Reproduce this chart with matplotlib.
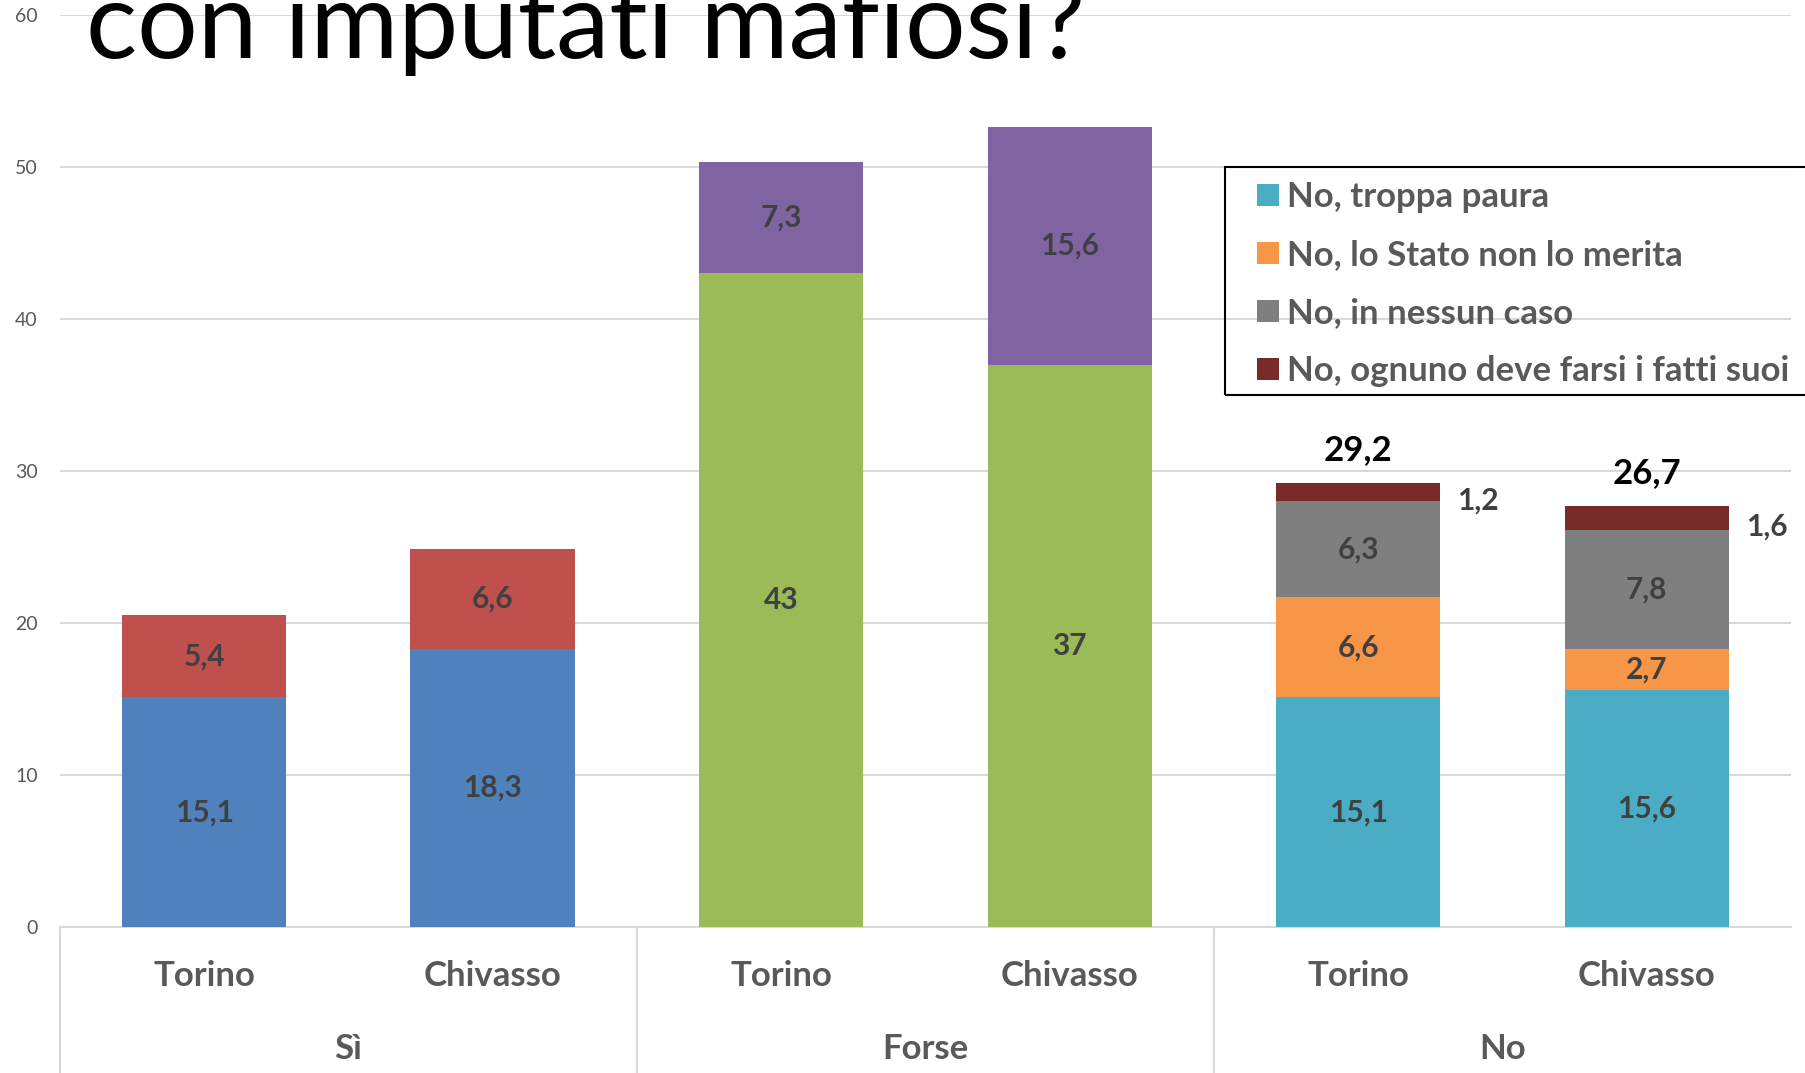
import matplotlib
matplotlib.use('Agg')
import matplotlib.pyplot as plt
from matplotlib.patches import Patch, Rectangle
from matplotlib.transforms import blended_transform_factory

# data
groups = ['Sì', 'Forse', 'No']
cities = ['Torino', 'Chivasso']

si_base = [15.1, 18.3]
si_top = [5.4, 6.6]
forse_base = [43, 37]
forse_top = [7.3, 15.6]
no_paura = [15.1, 15.6]
no_stato = [6.6, 2.7]
no_nessun = [6.3, 7.8]
no_fatti = [1.2, 1.6]
no_total_labels = ['29,2', '26,7']

legend_names = ['No, troppa paura', 'No, lo Stato non lo merita',
                'No, in nessun caso', 'No, ognuno deve farsi i fatti suoi']

plt.rcParams['font.family'] = ['Lato', 'DejaVu Sans']

fig = plt.figure(figsize=(18.06, 10.73), dpi=100)
ax = fig.add_axes([0.0332, 0.1361, 0.9585, 0.8499])

W = 0.57
LBL = '#404040'
FS = 21.5


def fmt(v):
    return ('%g' % v).replace('.', ',')


def stack(xs, layers, colors):
    bottom = [0] * len(xs)
    for vals, col in zip(layers, colors):
        ax.bar(xs, vals, W, bottom=bottom, color=col, zorder=3)
        bottom = [a + v for a, v in zip(bottom, vals)]
    return bottom


def inner(x, y, v):
    ax.text(x, y, fmt(v), ha='center', va='center', fontsize=FS,
            fontweight='bold', color=LBL, zorder=4)


# Sì
stack([0, 1], [si_base, si_top], ['#4F81BD', '#C0504D'])
for i, x in enumerate([0, 1]):
    inner(x, si_base[i] / 2, si_base[i])
    inner(x, si_base[i] + si_top[i] / 2, si_top[i])

# Forse
stack([2, 3], [forse_base, forse_top], ['#9BBB59', '#8064A2'])
for i, x in enumerate([2, 3]):
    inner(x, forse_base[i] / 2, forse_base[i])
    inner(x, forse_base[i] + forse_top[i] / 2, forse_top[i])

# No
no_colors = ['#4BACC6', '#F79646', '#7F7F7F', '#772C2A']
no_layers = [no_paura, no_stato, no_nessun, no_fatti]
tops = stack([4, 5], no_layers, no_colors)
for i, x in enumerate([4, 5]):
    base = 0
    for k, layer in enumerate(no_layers):
        v = layer[i]
        if k < 3:
            inner(x, base + v / 2, v)
        else:
            ax.annotate(fmt(v), (x + W / 2, base + v / 2), xytext=(12, -6), textcoords='offset points',
                        ha='left', va='center', fontsize=FS, fontweight='bold', color=LBL)
        base += v
    ax.annotate(no_total_labels[i], (x, tops[i]), xytext=(0, 12), textcoords='offset points',
                ha='center', va='bottom', fontsize=25, fontweight='bold', color='black')

ax.set_xlim(-0.5, 5.5)
ax.set_ylim(0, 60)
ax.set_yticks(range(0, 61, 10))
ax.yaxis.grid(True, color='#D9D9D9', linewidth=1.5, zorder=0)
ax.set_axisbelow(True)
for s in ['top', 'right', 'left']:
    ax.spines[s].set_visible(False)
ax.spines['bottom'].set_color('#D9D9D9')
ax.spines['bottom'].set_linewidth(1.5)
ax.tick_params(axis='y', length=0, labelsize=14, labelcolor='#595959', pad=16)

ax.set_xticks(range(6))
ax.set_xticklabels(cities * 3, fontsize=25, fontweight='bold', color='#595959')
ax.tick_params(axis='x', length=0, pad=24)

tr = blended_transform_factory(ax.transData, ax.transAxes)
for gi, g in enumerate(groups):
    ax.text(gi * 2 + 0.5, -0.134, g, transform=tr, ha='center', va='center',
            fontsize=25, fontweight='bold', color='#595959')
for xs in [-0.5, 1.5, 3.5]:
    ax.plot([xs, xs], [0, -0.17], transform=tr, color='#D9D9D9', linewidth=1.5, clip_on=False)

# legend: the box runs past the right edge of the slide
handles = [Patch(facecolor=c) for c in no_colors]
leg = ax.legend(handles, legend_names, loc='upper left', bbox_to_anchor=(0.696, 0.831),
                bbox_transform=fig.transFigure, frameon=False,
                fontsize=25, handlelength=0.62, handleheight=0.62, handletextpad=0.25,
                labelspacing=0.75, borderpad=0, borderaxespad=0)
for t in leg.get_texts():
    t.set_color('#595959')
    t.set_fontweight('bold')
fig.patches.append(Rectangle((1225 / 1806, 1 - 395 / 1073), 0.4, 228 / 1073,
                             transform=fig.transFigure, fill=False, edgecolor='black', linewidth=1.5))

fig.text(0.0476, 0.946, 'con imputati mafiosi?', fontsize=77, va='baseline', ha='left', color='black')

fig.savefig('out.png', dpi=100)
